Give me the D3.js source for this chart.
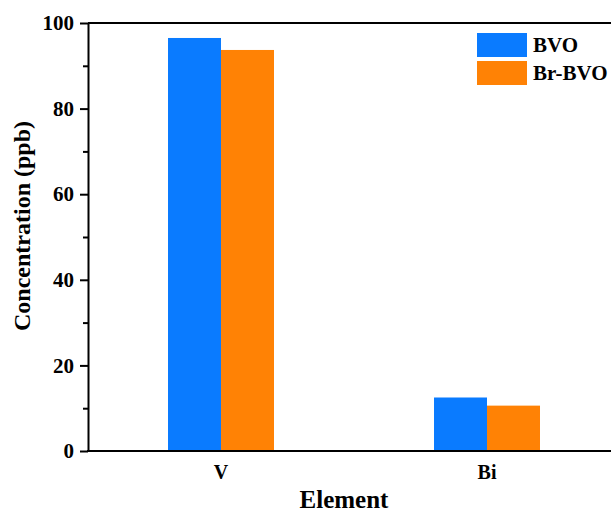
<!DOCTYPE html>
<html>
<head>
<meta charset="utf-8">
<script src="https://cdn.jsdelivr.net/npm/d3@7"></script>
<style>
  body { margin: 0; background: #fff; }
  svg { display: block; }
</style>
</head>
<body>
<div class="chart"></div>
<script>
// data
const elements = ['V', 'Bi'];
const seriesNames = ['BVO', 'Br-BVO'];
const bvo = [96.5, 12.5];
const brbvo = [93.7, 10.6];
const yTicks = [0, 20, 40, 60, 80, 100];

const width = 611, height = 515;
const margin = {top: 23, right: -9, bottom: 64, left: 88};
const fontFamily = '"Times New Roman", "Liberation Serif", serif';
const colors = ['#0a7bff', '#ff8205'];

let svg = d3.select('.chart')
    .append('svg')
    .attr('width', width)
    .attr('height', height)
    .attr('font-family', fontFamily)
    .attr('font-weight', 'bold');

let x = d3.scaleBand()
    .domain(elements)
    .range([margin.left, width - margin.right]);

let xSub = d3.scaleBand()
    .domain(seriesNames)
    .range([0, x.bandwidth()])
    .paddingInner(0)
    .paddingOuter(1.51);

let y = d3.scaleLinear()
    .domain([0, 100])
    .range([height - margin.bottom, margin.top]);

let color = d3.scaleOrdinal()
    .domain(seriesNames)
    .range(colors);

let data = elements.map((e, i) => ({el: e, vals: [
    {name: 'BVO', v: bvo[i]},
    {name: 'Br-BVO', v: brbvo[i]}
]}));

// bars
svg.append('g')
    .selectAll('g')
    .data(data)
    .join('g')
    .attr('transform', d => `translate(${x(d.el)},0)`)
    .selectAll('rect')
    .data(d => d.vals)
    .join('rect')
    .attr('x', d => xSub(d.name))
    .attr('width', xSub.bandwidth())
    .attr('y', d => y(d.v))
    .attr('height', d => y(0) - y(d.v))
    .attr('fill', d => color(d.name));

// top frame line
svg.append('line')
    .attr('x1', margin.left).attr('x2', width)
    .attr('y1', y(100)).attr('y2', y(100))
    .attr('stroke', '#000').attr('stroke-width', 2);

// minor y ticks
svg.append('g')
    .attr('transform', `translate(${margin.left},0)`)
    .call(d3.axisLeft(y).tickValues(d3.range(10, 100, 20)).tickSize(5).tickFormat(''))
    .call(g => g.select('.domain').remove())
    .call(g => g.selectAll('line').attr('stroke-width', 2));

// y axis
svg.append('g')
    .attr('transform', `translate(${margin.left},0)`)
    .call(d3.axisLeft(y).tickValues(yTicks).tickSize(8).tickPadding(6).tickSizeOuter(0))
    .call(g => g.select('.domain').attr('stroke-width', 2))
    .call(g => g.selectAll('line').attr('stroke-width', 2))
    .call(g => g.selectAll('text')
        .attr('font-size', 21)
        .attr('font-family', fontFamily)
        .attr('font-weight', 'bold')
        .attr('fill', '#000'));

// x axis
svg.append('g')
    .attr('transform', `translate(0,${y(0)})`)
    .call(d3.axisBottom(x).tickSize(0).tickPadding(14).tickSizeOuter(0))
    .call(g => g.select('.domain').attr('stroke-width', 2).attr('d', `M${margin.left - 1},0H${width}`))
    .call(g => g.selectAll('text')
        .attr('font-size', 20)
        .attr('font-family', fontFamily)
        .attr('font-weight', 'bold')
        .attr('fill', '#000'));

// axis titles
svg.append('text')
    .attr('x', 344)
    .attr('y', 508)
    .attr('text-anchor', 'middle')
    .attr('font-size', 25)
    .text('Element');

svg.append('text')
    .attr('transform', 'translate(30, 226) rotate(-90)')
    .attr('text-anchor', 'middle')
    .attr('font-size', 24)
    .text('Concentration (ppb)');

// legend
const legend = svg.append('g')
    .attr('transform', 'translate(477, 33)');
legend.selectAll('rect')
    .data(seriesNames)
    .join('rect')
    .attr('x', 0)
    .attr('y', (d, i) => i * 28)
    .attr('width', 50)
    .attr('height', 24)
    .attr('fill', d => color(d));
legend.selectAll('text')
    .data(seriesNames)
    .join('text')
    .attr('x', 56)
    .attr('y', (d, i) => i * 28 + 19)
    .attr('font-size', 21)
    .text(d => d);
</script>
</body>
</html>
